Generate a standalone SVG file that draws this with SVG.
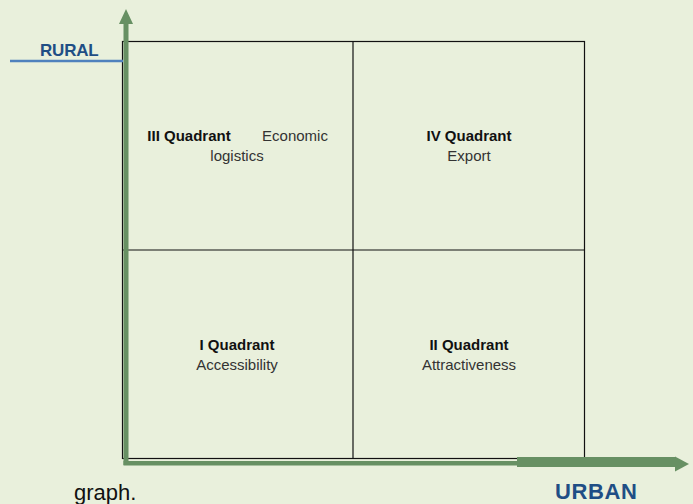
<svg xmlns="http://www.w3.org/2000/svg" width="693" height="504" viewBox="0 0 693 504">
<style>
.q{font-family:"Liberation Sans",Arial,sans-serif;font-size:15px;text-anchor:middle}
.b{font-weight:bold;fill:#111}
.r{fill:#333}
.ax{font-family:"Liberation Sans",Arial,sans-serif;font-weight:bold;fill:#1F4E85}
.grid{fill:none;stroke:#111;stroke-width:1.2}
.arr{fill:#679063}
</style>
<rect width="693" height="504" fill="#E9F0DC"/>
<g id="grid">
<rect class="grid" x="122.5" y="41.5" width="462" height="417"/>
<line class="grid" x1="353" y1="41.5" x2="353" y2="458.5"/>
<line class="grid" x1="122.5" y1="250" x2="584.5" y2="250"/>
</g>
<g id="connectors">
<rect class="arr" x="123.5" y="23" width="5" height="442"/>
<polygon class="arr" points="126,9 133,24 119,24"/>
<rect class="arr" x="123.5" y="461" width="395" height="4.5"/>
<rect class="arr" x="517" y="457" width="159" height="10"/>
<polygon class="arr" points="675,456.5 689,464 675,471.5"/>
<line x1="10" y1="61" x2="123" y2="61" stroke="#4F81BD" stroke-width="2.5"/>
</g>
<g id="q3">
<text class="q b" x="189" y="141">III Quadrant</text>
<text class="q r" x="295" y="141">Economic</text>
<text class="q r" x="237" y="161">logistics</text>
</g>
<g id="q4">
<text class="q b" x="469" y="141">IV Quadrant</text>
<text class="q r" x="469" y="161">Export</text>
</g>
<g id="q1">
<text class="q b" x="237" y="350">I Quadrant</text>
<text class="q r" x="237" y="370">Accessibility</text>
</g>
<g id="q2">
<text class="q b" x="469" y="350">II Quadrant</text>
<text class="q r" x="469" y="370">Attractiveness</text>
</g>
<g id="labels">
<text class="ax" x="40" y="56" font-size="17" letter-spacing="-0.2">RURAL</text>
<text class="ax" x="555" y="499" font-size="22" letter-spacing="0.6">URBAN</text>
<text x="74" y="500" font-family="Liberation Sans, Arial, sans-serif" font-size="22" fill="#111">graph.</text>
</g>
</svg>
